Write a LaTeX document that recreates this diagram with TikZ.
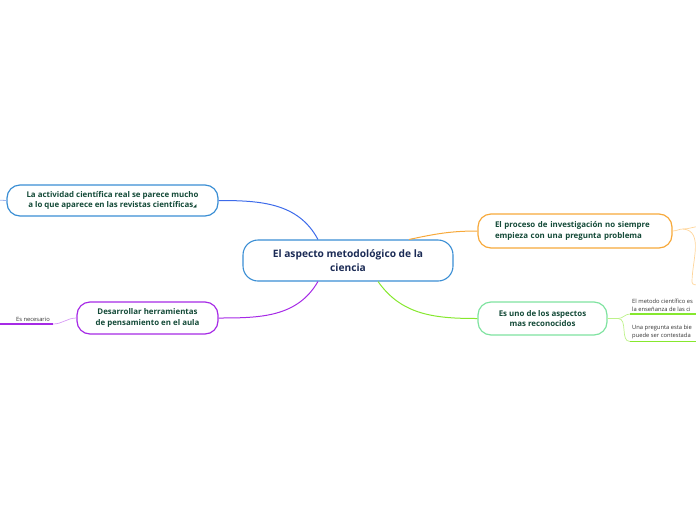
\documentclass[tikz,border=0pt]{standalone}
\usepackage{fontspec}
\setmainfont{Open Sans}
\newfontfamily\symfont{DejaVu Sans}
\definecolor{nodetext}{HTML}{144A38}
\definecolor{maintext}{HTML}{1B2B55}
\definecolor{leaftext}{HTML}{333333}
\definecolor{blueline}{HTML}{3D6BEA}
\definecolor{blueedge}{HTML}{3A8ED4}
\definecolor{bluefade}{HTML}{9DB3EE}
\definecolor{orangeline}{HTML}{F7A93B}
\definecolor{orangefade}{HTML}{FFD59A}
\definecolor{purpleline}{HTML}{A62AE6}
\definecolor{purplefade}{HTML}{D79AF5}
\definecolor{greenline}{HTML}{86E82E}
\definecolor{greenedge}{HTML}{7FE3A0}
\definecolor{greenfade}{HTML}{BDF28A}

\begin{document}
\begin{tikzpicture}[x=1pt,y=-1pt,
  central/.style={draw=blueedge, line width=1.1pt, rounded corners=15pt, fill=white,
    text=maintext, font=\fontsize{10.2}{14}\selectfont\bfseries, align=center,
    minimum width=210pt, minimum height=41pt, inner sep=0pt},
  topic/.style={line width=1.2pt, rounded corners=13pt, fill=white, text=nodetext,
    font=\fontsize{7.9}{10.8}\selectfont\bfseries, inner sep=0pt, minimum height=32pt},
  leaf/.style={text=leaftext, font=\fontsize{5.8}{8}\selectfont, inner sep=0pt, align=left},
  link/.style={line width=1pt}
]
\useasboundingbox (0,0) rectangle (696,520);
\clip (0,0) rectangle (696,520);

% main node
\node[central] (c) at (348,260.5) {El aspecto metodológico de la\\ciencia};

% first level topics
\node[topic, draw=blueedge, align=center, minimum width=211pt, minimum height=31pt] (act) at (112.5,200.5)
  {La actividad científica real se parece mucho\\a lo que aparece en las revistas científicas{\symfont\fontsize{4.5}{4.5}\selectfont ◢}};
\node[topic, draw=orangeline, align=left, text width=160pt, minimum width=194pt, minimum height=34pt] (inv) at (575,231)
  {El proceso de investigación no siempre\\empieza con una pregunta problema};
\node[topic, draw=greenedge, align=center, minimum width=129pt, minimum height=33pt] (asp) at (542.5,318.5)
  {Es uno de los aspectos\\mas reconocidos};
\node[topic, draw=purpleline, align=center, minimum width=141pt] (her) at (147.5,318)
  {Desarrollar herramientas\\de pensamiento en el aula};

% connectors from the main node
\draw[link, blueline] (c.145) to[out=118, in=0] (act.east);
\draw[link, orangeline] (c.19) to[out=12, in=180] (inv.west);
\draw[link, purpleline] (c.215) to[out=240, in=0] (her.east);
\draw[link, greenline] (c.-35) to[out=-55, in=180] (asp.west);

% left of the first topic
\coordinate (actout) at (-4,200);
\draw[line width=0.8pt, bluefade] (act.west) -- (actout);

% orange branches
\coordinate (invj) at (683,229);
\coordinate (inva) at (700,226.5);
\coordinate (invb) at (692,282);
\coordinate (invc) at (700,285);
\draw[line width=0.7pt, orangefade] (inv.east) to[out=0, in=180] (invj) to[out=0, in=180] (inva);
\draw[line width=0.7pt, orangefade] (invj) to[out=-5, in=90] (invb) to[out=-90, in=180] (invc);

% green branches
\coordinate (aspa) at (630,314);
\coordinate (aspb) at (630,341.5);
\coordinate (aspae) at (700,314);
\coordinate (aspbe) at (700,341.5);
\draw[line width=0.7pt, greenfade] (asp.east) -- (618,318.5) to[out=0, in=180] (aspa);
\draw[line width=0.7pt, greenfade] (618,318.5) to[out=0, in=180] (aspb);
\draw[line width=1.6pt, greenline] (aspa) -- (aspae);
\draw[line width=1.6pt, greenline] (aspb) -- (aspbe);
\node[leaf, anchor=south west] (meto) at (632,311.5) {El metodo científico es\\la enseñanza de las ci};
\node[leaf, anchor=south west] (preg) at (632,339) {Una pregunta esta bie\\puede ser contestada};

% purple branch
\coordinate (hera) at (53,324);
\coordinate (herb) at (-2,324);
\draw[line width=0.7pt, purplefade] (her.west) to[out=180, in=0] (hera);
\draw[line width=1.6pt, purpleline] (hera) -- (herb);
\node[leaf, anchor=south] (nec) at (33,321.5) {Es necesario};
\end{tikzpicture}
\end{document}
